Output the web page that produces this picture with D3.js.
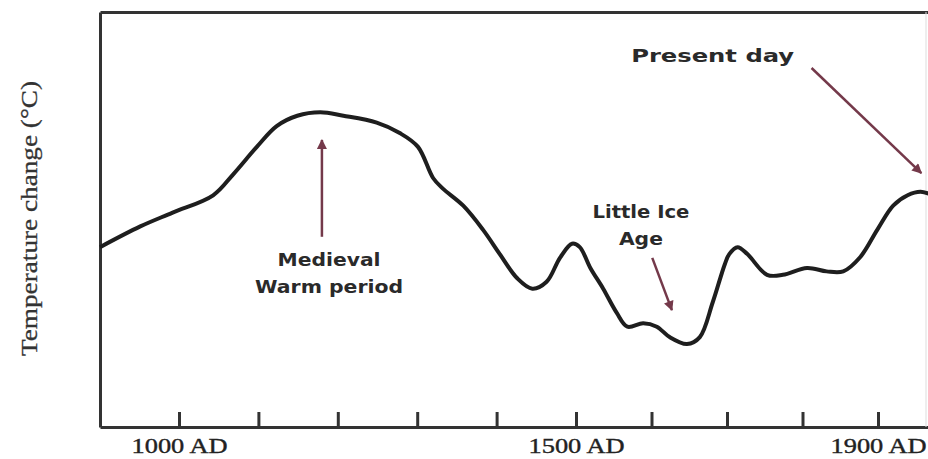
<!DOCTYPE html>
<html>
<head>
<meta charset="utf-8">
<script src="https://cdn.jsdelivr.net/npm/d3@7"></script>
<style>
  html, body { margin: 0; padding: 0; background: #fff; }
  svg { display: block; }
</style>
</head>
<body>
<div id="graph"></div>
<script>
// reconstructed temperature curve (arbitrary °C anomaly)
const years = [900, 951, 992, 1043, 1068, 1098, 1123, 1149, 1178, 1207, 1249, 1278, 1301, 1320, 1332,
  1358, 1383, 1404, 1426, 1445, 1463, 1480, 1495, 1505, 1519, 1536, 1554, 1568, 1589, 1607,
  1624, 1647, 1664, 1681, 1697, 1703, 1714, 1727, 1753, 1774, 1806, 1832, 1854, 1876, 1899,
  1920, 1939, 1956, 1972];
const temps = [-0.08, -0.02, 0.02, 0.07, 0.13, 0.21, 0.27, 0.30, 0.31, 0.30, 0.28, 0.25, 0.21, 0.12, 0.09,
  0.04, -0.03, -0.10, -0.17, -0.20, -0.18, -0.11, -0.07, -0.08, -0.14, -0.20, -0.27, -0.31, -0.30, -0.31,
  -0.34, -0.36, -0.34, -0.24, -0.13, -0.10, -0.08, -0.10, -0.16, -0.16, -0.14, -0.15, -0.15, -0.11, -0.03,
  0.04, 0.07, 0.08, 0.07];

const tickYears = [1000, 1100, 1200, 1300, 1400, 1500, 1600, 1700, 1800, 1900];
const labelYears = [1000, 1500, 1900];

const yLabel = "Temperature change (°C)";

// annotations : text anchor + arrow (from -> to), in years / °C
const notes = [
  { lines: ["Medieval", "Warm period"], lens: [103, 148], year: 1189, temp: -0.135,
    from: [1180, -0.05], to: [1180, 0.23] },
  { lines: ["Little Ice", "Age"], lens: [97, 44], year: 1586, temp: 0.004,
    from: [1601, -0.111], to: [1627, -0.262] },
  { lines: ["Present day"], lens: [163], year: 1681, temp: 0.455,
    from: [1812, 0.438], to: [1957, 0.134] }
];

let width = 928, height = 459;

let svg = d3.select("#graph")
    .append("svg")
    .attr("width", width)
    .attr("height", height);

// x axis is not quite linear in the original
let x = d3.scaleLinear()
    .domain([900, 1000, 1500, 1900, 1975])
    .range([100, 179, 576, 878, 935]);

let y = d3.scaleLinear()
    .domain([-0.6, 0.6])
    .range([427, 12]);

let axisColor = "#333";

// bottom axis with inner ticks
let gx = svg.append("g")
    .attr("transform", "translate(0," + y(-0.6) + ")")
    .call(d3.axisBottom(x)
        .tickValues(tickYears)
        .tickSize(-15)
        .tickSizeOuter(0)
        .tickPadding(10)
        .tickFormat(d => labelYears.includes(d) ? d + " AD" : ""));
gx.select(".domain").attr("stroke", axisColor).attr("stroke-width", 3);
gx.selectAll(".tick line").attr("stroke", axisColor).attr("stroke-width", 3);
gx.selectAll(".tick text")
    .attr("fill", "#222")
    .attr("stroke", "#222")
    .attr("stroke-width", 0.4)
    .style("font-family", "'Liberation Serif', 'Times New Roman', serif")
    .style("font-size", "22px")
    .each(function () {
        if (this.textContent) d3.select(this).attr("textLength", 96).attr("lengthAdjust", "spacingAndGlyphs");
    });

// left and top frame
let gy = svg.append("g")
    .attr("transform", "translate(" + x(900) + ",0)")
    .call(d3.axisLeft(y).tickValues([]).tickSizeOuter(0));
gy.select(".domain").attr("stroke", axisColor).attr("stroke-width", 3);

let gt = svg.append("g")
    .attr("transform", "translate(0," + y(0.6) + ")")
    .call(d3.axisTop(x).tickValues([]).tickSizeOuter(0));
gt.select(".domain").attr("stroke", axisColor).attr("stroke-width", 3);

// faint right edge
svg.append("line")
    .attr("x1", 926).attr("x2", 926)
    .attr("y1", y(0.6)).attr("y2", y(-0.6))
    .attr("stroke", "#ddd")
    .attr("stroke-width", 1);

// y label
svg.append("text")
    .attr("transform", "translate(29," + (y(0) - 1) + ") rotate(-90)")
    .attr("text-anchor", "middle")
    .attr("dominant-baseline", "central")
    .attr("textLength", 275)
    .attr("lengthAdjust", "spacingAndGlyphs")
    .attr("fill", "#333")
    .attr("stroke", "#333")
    .attr("stroke-width", 0.3)
    .style("font-family", "'Liberation Serif', 'Times New Roman', serif")
    .style("font-size", "23px")
    .text(yLabel);

// the curve
let data = years.map((d, i) => ({ year: d, temp: temps[i] }));

svg.append("path")
    .datum(data)
    .attr("fill", "none")
    .attr("stroke", "#1e1e1e")
    .attr("stroke-width", 4)
    .attr("stroke-linejoin", "round")
    .attr("d", d3.line()
        .curve(d3.curveCatmullRom.alpha(0.5))
        .x(d => x(d.year))
        .y(d => y(d.temp)));

// arrow head
let arrowColor = "#74394a";
svg.append("defs").append("marker")
    .attr("id", "head")
    .attr("viewBox", "0 0 10 10")
    .attr("refX", 9)
    .attr("refY", 5)
    .attr("markerUnits", "userSpaceOnUse")
    .attr("markerWidth", 12)
    .attr("markerHeight", 10)
    .attr("orient", "auto")
    .append("path")
    .attr("d", "M0,0L10,5L0,10Z")
    .attr("fill", arrowColor);

notes.forEach(n => {
    svg.append("line")
        .attr("x1", x(n.from[0])).attr("y1", y(n.from[1]))
        .attr("x2", x(n.to[0])).attr("y2", y(n.to[1]))
        .attr("stroke", arrowColor)
        .attr("stroke-width", 2.5)
        .attr("marker-end", "url(#head)");

    n.lines.forEach((l, i) => {
        svg.append("text")
            .attr("x", x(n.year))
            .attr("y", y(n.temp) + i * 27)
            .attr("text-anchor", "middle")
            .attr("textLength", n.lens[i])
            .attr("lengthAdjust", "spacingAndGlyphs")
            .attr("fill", "#2a2a2a")
            .style("font-family", "'DejaVu Sans', Verdana, sans-serif")
            .style("font-weight", "bold")
            .style("font-size", "18px")
            .text(l);
    });
});
</script>
</body>
</html>
